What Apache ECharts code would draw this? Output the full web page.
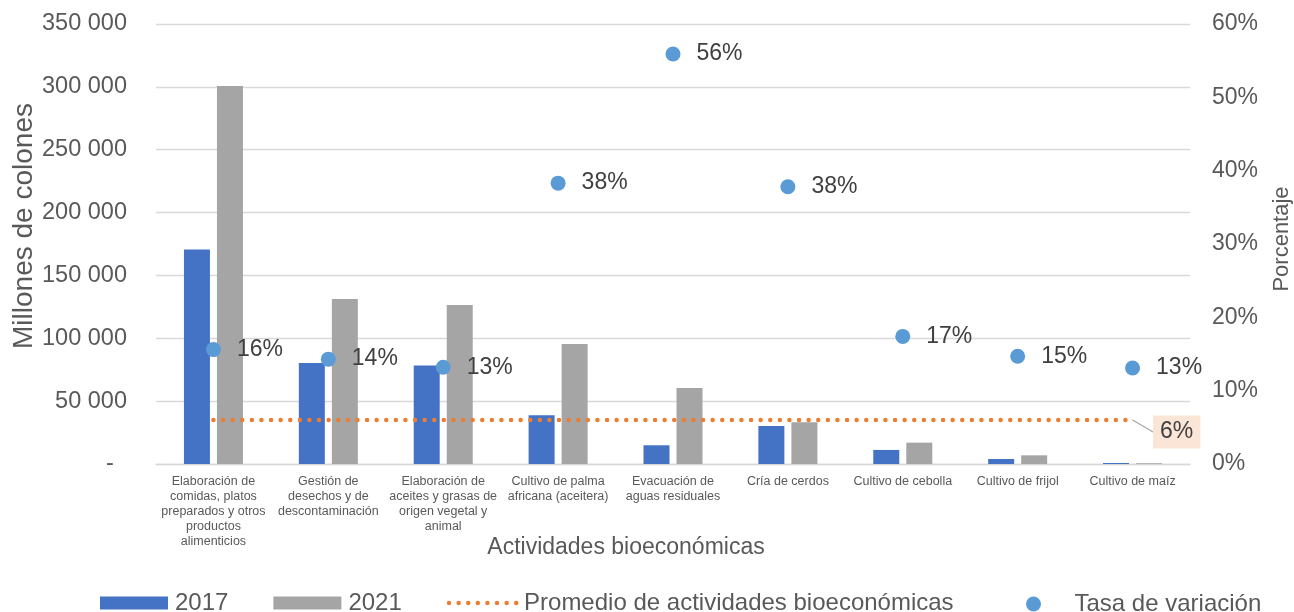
<!DOCTYPE html>
<html>
<head>
<meta charset="utf-8">
<script src="https://cdn.jsdelivr.net/npm/echarts@6/dist/echarts.min.js"></script>
<style>
  html, body { margin: 0; padding: 0; background: #fff; }
  #chart { width: 1294px; height: 612px; }
</style>
</head>
<body>
<div id="chart"></div>
<script>
// categorias (etiquetas del eje x, con saltos de linea como en el original)
var actividades = [
  'Elaboración de\ncomidas, platos\npreparados y otros\nproductos\nalimenticios',
  'Gestión de\ndesechos y de\ndescontaminación',
  'Elaboración de\naceites y grasas de\norigen vegetal y\nanimal',
  'Cultivo de palma\nafricana (aceitera)',
  'Evacuación de\naguas residuales',
  'Cría de cerdos',
  'Cultivo de cebolla',
  'Cultivo de frijol',
  'Cultivo de maíz'
];
// millones de colones
var valores2017 = [170700, 80300, 78400, 38800, 14900, 30300, 11200, 4000, 800];
var valores2021 = [300600, 131300, 126500, 95400, 60400, 33200, 17000, 6900, 600];
// tasa de variacion (%)
var tasaVariacion = [15.6, 14.3, 13.2, 38.3, 55.9, 37.8, 17.4, 14.7, 13.1];
// promedio de actividades bioeconomicas (%)
var promedio = [6, 6, 6, 6, 6, 6, 6, 6, 6];

var fuente = '"Liberation Sans", Arial, sans-serif';
var gris = '#595959';
var nombrePromedio = 'Promedio de actividades bioeconómicas';
var punteado = { color: '#ED7D31', width: 4.5, type: [0, 9.6], cap: 'round' };
var textoLeyenda = { fontSize: 24, color: gris, fontFamily: fuente, padding: [0, 0, 0, 2] };

function miles(v) {
  if (v === 0) return '-  ';
  return String(v).replace(/\B(?=(\d{3})+(?!\d))/g, ' ');
}

var chart = echarts.init(document.getElementById('chart'));

var ultimo = promedio.length - 1;
var promedioData = promedio.map(function (v, i) {
  if (i === ultimo) {
    return {
      value: v,
      symbol: 'circle',
      symbolSize: 1,
      label: {
        show: true,
        position: 'right',
        distance: 8,
        formatter: '{c}%',
        color: '#404040',
        fontSize: 23,
        fontFamily: fuente,
        backgroundColor: '#FBE5D6',
        padding: [5, 7, 5, 7]
      },
      labelLine: { show: true, lineStyle: { color: '#A6A6A6', width: 1.3 } }
    };
  }
  return v;
});

chart.setOption({
  animation: false,
  textStyle: { fontFamily: fuente },
  grid: { left: 156, right: 104, top: 24, bottom: 148, outerBoundsMode: 'none' },
  legend: [
    {
      bottom: -8,
      left: 95,
      itemWidth: 68,
      itemHeight: 13,
      itemGap: 45,
      textStyle: textoLeyenda,
      data: [
        { name: '2017', icon: 'rect' },
        { name: '2021', icon: 'rect' },
        { name: nombrePromedio, itemStyle: { opacity: 0 }, lineStyle: punteado }
      ]
    },
    {
      bottom: -9,
      left: 1021,
      itemWidth: 68,
      itemHeight: 15,
      textStyle: textoLeyenda,
      data: ['Tasa de variación']
    }
  ],
  xAxis: {
    type: 'category',
    data: actividades,
    name: 'Actividades bioeconómicas',
    nameLocation: 'middle',
    nameGap: 72,
    nameMoveOverlap: false,
    nameTextStyle: { fontSize: 23, color: gris, padding: [0, 94, 0, 0] },
    axisLine: { lineStyle: { color: '#D9D9D9', width: 1.3 } },
    axisTick: { show: false },
    axisLabel: { interval: 0, fontSize: 12.5, lineHeight: 15, color: gris, margin: 10 }
  },
  yAxis: [
    {
      type: 'value',
      min: 0,
      max: 350000,
      interval: 50000,
      name: 'Millones de colones',
      nameLocation: 'middle',
      nameRotate: 90,
      nameGap: 118,
      nameMoveOverlap: false,
      nameTextStyle: { fontSize: 28, color: gris, padding: [0, 0, 0, 36] },
      axisLine: { show: false },
      axisTick: { show: false },
      axisLabel: { fontSize: 23.5, color: gris, margin: 29, formatter: miles },
      splitLine: { lineStyle: { color: '#D9D9D9', width: 1.3 } }
    },
    {
      type: 'value',
      min: 0,
      max: 60,
      interval: 10,
      name: 'Porcentaje',
      nameLocation: 'middle',
      nameRotate: 90,
      nameGap: 81,
      nameMoveOverlap: false,
      nameTextStyle: { fontSize: 22, color: gris, padding: [0, 0, 0, 10] },
      axisLine: { show: false },
      axisTick: { show: false },
      axisLabel: { fontSize: 23, color: gris, margin: 22, formatter: '{value}%' },
      splitLine: { show: false }
    }
  ],
  series: [
    {
      name: '2017',
      type: 'bar',
      data: valores2017,
      barWidth: 26,
      barGap: '27%',
      itemStyle: { color: '#4472C4' }
    },
    {
      name: '2021',
      type: 'bar',
      data: valores2021,
      barWidth: 26,
      itemStyle: { color: '#A5A5A5' }
    },
    {
      name: nombrePromedio,
      type: 'line',
      yAxisIndex: 1,
      data: promedioData,
      symbol: 'none',
      z: 3,
      lineStyle: punteado,
      itemStyle: { color: '#ED7D31' },
      labelLayout: { dx: 12, dy: 12 }
    },
    {
      name: 'Tasa de variación',
      type: 'scatter',
      yAxisIndex: 1,
      data: tasaVariacion,
      symbolSize: 15,
      z: 4,
      itemStyle: { color: '#5B9BD5', opacity: 1 },
      label: {
        show: true,
        position: 'right',
        distance: 16,
        color: '#404040',
        fontSize: 23,
        formatter: function (p) { return Math.round(p.value) + '%'; }
      }
    }
  ]
});
</script>
</body>
</html>
